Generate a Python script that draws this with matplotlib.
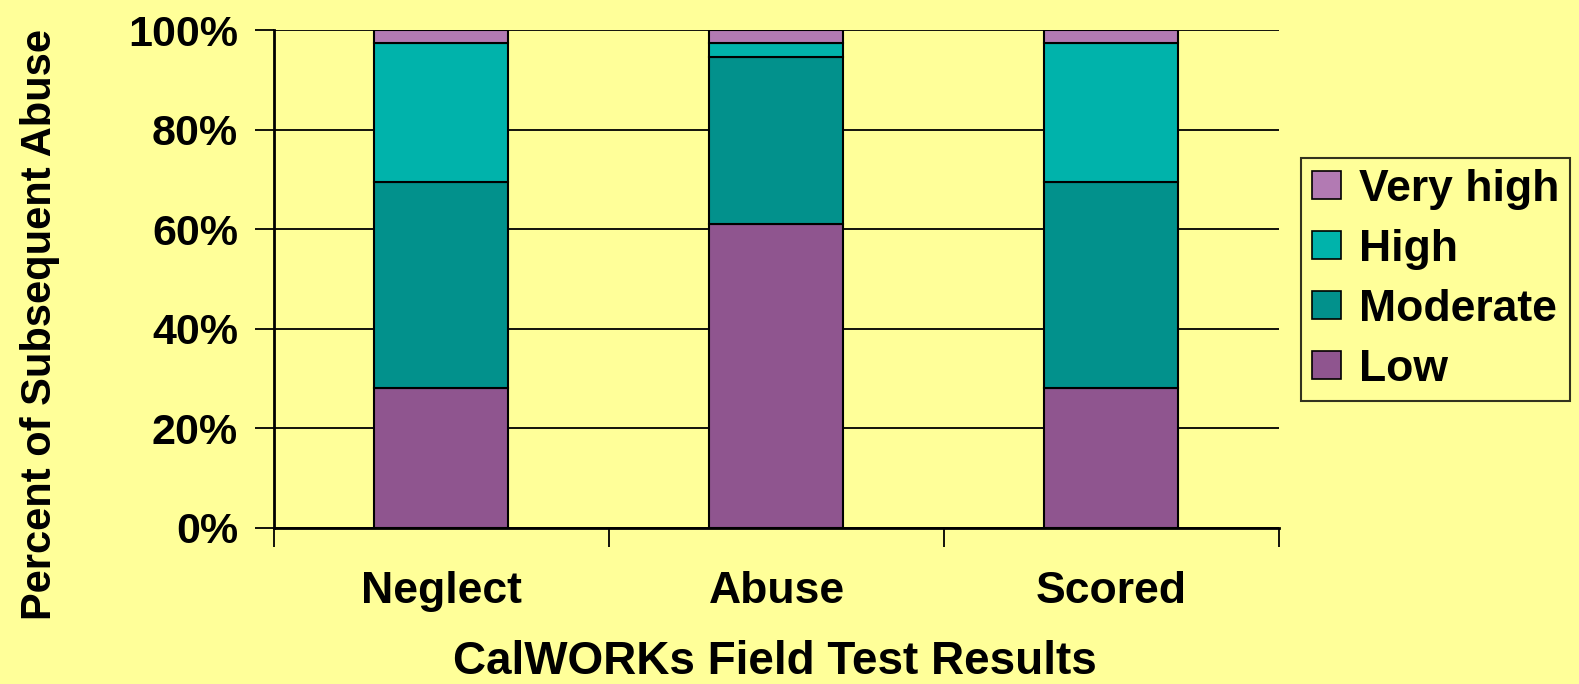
import matplotlib
matplotlib.use("Agg")
import matplotlib.pyplot as plt
import numpy as np
from matplotlib.patches import Patch

categories = ["Neglect", "Abuse", "Scored"]
series_names = ["Low", "Moderate", "High", "Very high"]
low = [28.0, 61.0, 28.0]
moderate = [41.4, 33.7, 41.4]
high = [28.0, 2.7, 28.0]
very_high = [2.6, 2.6, 2.6]
y_ticks = [0, 20, 40, 60, 80, 100]
y_tick_labels = ["0%", "20%", "40%", "60%", "80%", "100%"]

colors = ["#8F558F", "#02918C", "#00B3AB", "#B27AB3"]
bg = "#FFFF99"

plt.rcParams['font.family'] = ['Liberation Sans', 'DejaVu Sans']
plt.rcParams['font.weight'] = 'bold'

fig = plt.figure(figsize=(15.79, 6.84), dpi=100, facecolor=bg)
ax = fig.add_axes([274/1579, 1-527.7/684, (1279-274)/1579, (527.7-30.2)/684])
ax.set_facecolor(bg)

x = np.arange(len(categories))
bottom = np.zeros(len(categories))
for vals, col in zip([low, moderate, high, very_high], colors):
    ax.bar(x, vals, width=0.4, bottom=bottom, color=col, edgecolor="black",
           linewidth=1.5, zorder=3)
    bottom += np.array(vals)

ax.set_xlim(-0.5, 2.5)
ax.set_ylim(0, 100)
ax.set_yticks(y_ticks)
ax.set_yticklabels(y_tick_labels, fontsize=31, fontweight='bold')
ax.yaxis.grid(True, color="black", linewidth=1.3, zorder=0)
ax.set_axisbelow(True)

ax.set_xticks(x)
ax.set_xticklabels(categories, fontsize=32, fontweight='bold')
ax.set_xticks([-0.5, 0.5, 1.5, 2.5], minor=True)
ax.tick_params(axis='x', which='major', length=0, pad=31)
ax.tick_params(axis='x', which='minor', length=14, width=1.3, direction='out')
ax.tick_params(axis='y', which='major', length=14, width=1.3, direction='out', pad=12)

for s in ["top", "right"]:
    ax.spines[s].set_visible(False)
for s in ["left", "bottom"]:
    ax.spines[s].set_linewidth(2)

fig.text(775/1579, 1-674/684, "CalWORKs Field Test Results", ha='center',
         va='baseline', fontsize=33, fontweight='bold')
fig.text(40/1579, 1-325/684, "Percent of Subsequent Abuse", ha='center',
         va='center', rotation=90, fontsize=30, fontweight='bold')

handles = [Patch(facecolor=c, edgecolor="black", linewidth=1.2) for c in colors]
leg = fig.legend(handles[::-1], series_names[::-1], loc='upper left',
                 bbox_to_anchor=(1301/1579, 1-158/684), frameon=True,
                 prop={'weight': 'bold', 'size': 32},
                 handlelength=0.66, handleheight=0.6, handletextpad=0.4,
                 labelspacing=0.43, borderpad=0.24, borderaxespad=0,
                 fancybox=False)
leg.get_frame().set_facecolor(bg)
leg.get_frame().set_edgecolor("black")
leg.get_frame().set_linewidth(1.5)

fig.savefig("out.png", dpi=100, facecolor=bg)
